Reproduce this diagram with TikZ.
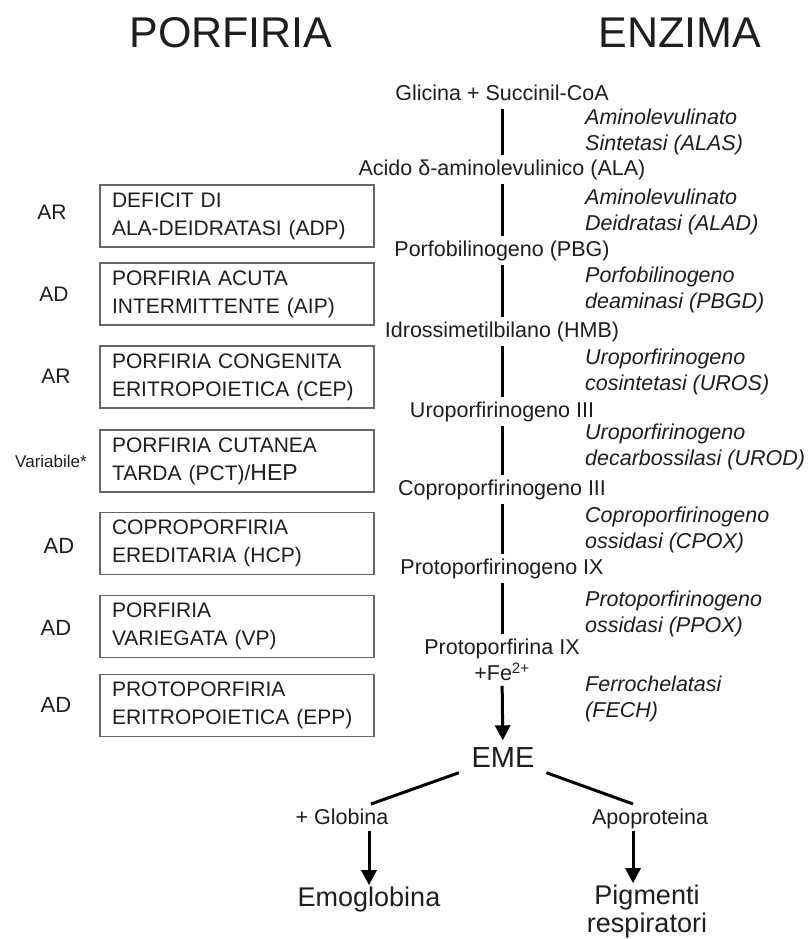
\documentclass[tikz,border=0pt]{standalone}
\usepackage{fontspec}
\setmainfont{Liberation Sans}
\usetikzlibrary{arrows.meta,calc}
\newcommand{\fsz}[2]{\fontsize{#1}{#2}\selectfont}
\definecolor{txt}{HTML}{1E1E1E}
\definecolor{boxc}{HTML}{666666}
\begin{document}
\begin{tikzpicture}[x=1pt,y=-1pt,
  title/.style={font=\fsz{43}{48}, inner sep=0pt, text=txt},
  chainnode/.style={font=\fsz{21.5}{26}, inner sep=0pt, text height=15.4pt, text depth=0pt, text=txt},
  enz/.style={font=\fsz{21.5}{26}\itshape, inner sep=0pt, anchor=west, align=left, text=txt},
  pbox/.style={draw=boxc, line width=1.5pt, minimum height=62pt, text width=250pt, inner xsep=12pt, inner ysep=0pt, align=left, font=\fsz{21}{28}, text=txt},
  inh/.style={font=\fsz{21}{25}, inner sep=0pt, text=txt},
  chainline/.style={line width=3pt, shorten <=8pt, shorten >=5pt},
  arr/.style={line width=3pt, -{Triangle[width=15pt,length=15pt]}},
  branch/.style={line width=3pt},
  big/.style={font=\fsz{27}{31}, inner sep=0pt, text height=19.3pt, text depth=0pt, text=txt}
]
\useasboundingbox[fill=white] (0,0) rectangle (807,939);

% titles
\node[title] (tP) at (231,33) {PORFIRIA};
\node[title] (tE) at (680,33) {ENZIMA};

% main chain
\node[chainnode] (gly) at (502,93) {Glicina + Succinil-CoA};
\node[chainnode] (ala) at (502,168) {Acido δ-aminolevulinico (ALA)};
\node[chainnode] (pbg) at (502,249) {Porfobilinogeno (PBG)};
\node[chainnode] (hmb) at (502,330) {Idrossimetilbilano (HMB)};
\node[chainnode] (uro) at (502,410) {Uroporfirinogeno III};
\node[chainnode] (copro) at (502,488) {Coproporfirinogeno III};
\node[chainnode] (protog) at (502,567) {Protoporfirinogeno IX};
\node[chainnode] (proto) at (502,647) {Protoporfirina IX};
\node[chainnode] (fe) at (502,673) {+Fe\textsuperscript{2+}};
\node[font=\fsz{29}{33}, inner xsep=14pt, inner ysep=5pt, text height=21pt, text depth=0pt, text=txt] (eme) at (503,757) {EME};

\draw[chainline] (gly) -- (ala);
\draw[chainline] (ala) -- (pbg);
\draw[chainline] (pbg) -- (hmb);
\draw[chainline] (hmb) -- (uro);
\draw[chainline] (uro) -- (copro);
\draw[chainline] (copro) -- (protog);
\draw[chainline] (protog) -- (proto);
\draw[arr, shorten <=5pt, shorten >=1pt] (fe) -- (eme);

% enzymes
\node[enz] (alas) at (585,132) {Aminolevulinato\\Sintetasi (ALAS)};
\node[enz] (alad) at (585,212) {Aminolevulinato\\Deidratasi (ALAD)};
\node[enz] (pbgd) at (585,290) {Porfobilinogeno\\deaminasi (PBGD)};
\node[enz] (uros) at (585,372) {Uroporfirinogeno\\cosintetasi (UROS)};
\node[enz] (urod) at (585,447) {Uroporfirinogeno\\decarbossilasi (UROD)};
\node[enz] (cpox) at (585,530) {Coproporfirinogeno\\ossidasi (CPOX)};
\node[enz] (ppox) at (585,614) {Protoporfirinogeno\\ossidasi (PPOX)};
\node[enz] (fech) at (585,699) {Ferrochelatasi\\(FECH)};

% porphyria boxes
\node[pbox] (b1) at (237,216) {DEFICIT DI\\ALA-DEIDRATASI (ADP)};
\node[pbox] (b2) at (237,294) {PORFIRIA ACUTA\\INTERMITTENTE (AIP)};
\node[pbox] (b3) at (237,377) {PORFIRIA CONGENITA\\ERITROPOIETICA (CEP)};
\node[pbox] (b4) at (237,461) {PORFIRIA CUTANEA\\TARDA (PCT)/{\fsz{23}{28}HEP}};
\node[pbox] (b5) at (237,543.5) {COPROPORFIRIA\\EREDITARIA (HCP)};
\node[pbox] (b6) at (237,626.5) {PORFIRIA\\VARIEGATA (VP)};
\node[pbox] (b7) at (237,705.5) {PROTOPORFIRIA\\ERITROPOIETICA (EPP)};

% inheritance
\node[inh] (i1) at (52,212) {AR};
\node[inh] (i2) at (54,294) {AD};
\node[inh] (i3) at (56,376) {AR};
\node[inh, font=\fsz{17}{20}] (i4) at (51,461) {Variabile*};
\node[inh, font=\fsz{22}{26}] (i5) at (59,546) {AD};
\node[inh, font=\fsz{22}{26}] (i6) at (56,628) {AD};
\node[inh, font=\fsz{22}{26}] (i7) at (56,705) {AD};

% branches
\node[chainnode] (glo) at (342,817) {+ Globina};
\node[chainnode] (apo) at (650,817) {Apoproteina};
\coordinate (gT) at (371,804);
\coordinate (aT) at (633,804);
\draw[branch] (eme) -- (gT);
\draw[branch] (eme) -- (aT);

\node[big] (emo) at (369,897) {Emoglobina};
\node[big] (pig) at (647,895) {Pigmenti};
\node[big] (resp) at (647,923) {respiratori};

\draw[arr, shorten <=6pt, shorten >=2pt] (glo.south -| emo) -- (emo.north);
\draw[arr, shorten <=6pt, shorten >=2pt] (apo.south -| aT) -- (pig.north -| aT);
\end{tikzpicture}
\end{document}
